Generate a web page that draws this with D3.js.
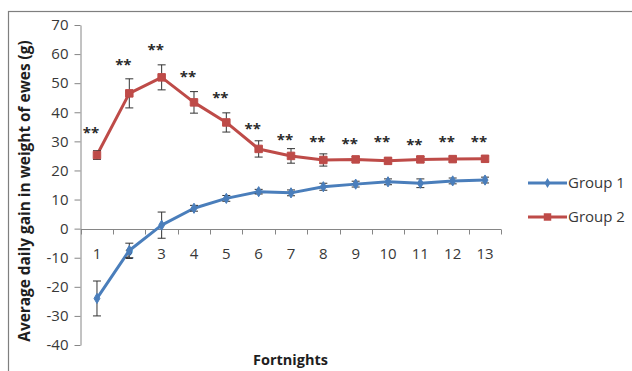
<!DOCTYPE html>
<html>
<head>
<meta charset="utf-8">
<script src="https://cdn.jsdelivr.net/npm/d3@7"></script>
<style>
  html, body { margin: 0; padding: 0; background: #fff; }
  svg { display: block; }
  text { font-family: "Open Sans", "Liberation Sans", sans-serif; }
</style>
</head>
<body>
<svg id="chart" width="632" height="371"></svg>
<script>
// Fortnight index and mean daily gain (g) per group, with error half-widths
const fortnights = [1, 2, 3, 4, 5, 6, 7, 8, 9, 10, 11, 12, 13];
const group1 = [-24, -7.5, 1.2, 7, 10.4, 12.7, 12.3, 14.4, 15.3, 16.1, 15.6, 16.4, 16.7];
const group1Err = [6, 2.5, 4.5, 1, 1, 0.8, 1, 1.2, 1, 1, 1.5, 1, 1];
const group2 = [25.3, 46.5, 52, 43.4, 36.5, 27.4, 25, 23.6, 23.8, 23.3, 23.8, 23.9, 24];
const group2Err = [1.5, 5, 4.3, 3.7, 3.3, 2.8, 2.5, 2.1, 1, 1, 1, 1, 1];
// Significance markers and the level (g) at which each is written
const signif = ["**", "**", "**", "**", "**", "**", "**", "**", "**", "**", "**", "**", "**"];
const signifLevel = [33.6, 56.9, 62.1, 52.8, 45.6, 34.9, 31.1, 30.4, 29.9, 30.4, 29.4, 30.4, 30.4];
const yTicks = [-40, -30, -20, -10, 0, 10, 20, 30, 40, 50, 60, 70];
const seriesNames = ["Group 1", "Group 2"];

const blue = "#4a7ebb", red = "#be4b48", axisGray = "#868686", textGray = "#383838";

const svg = d3.select("#chart");

// outer frame
svg.append("rect")
  .attr("x", 8.5).attr("y", 11.5).attr("width", 700).attr("height", 500)
  .attr("fill", "none").attr("stroke", "#7f7f7f").attr("stroke-width", 1.2);

const x = d3.scaleBand().domain(fortnights).range([80.8, 501.2]);
const y = d3.scaleLinear().domain([-40, 70]).range([345, 25]);
const cx = d => x(d) + x.bandwidth() / 2;

// y axis
const yAxis = svg.append("g")
  .attr("transform", "translate(80.5,0)")
  .call(d3.axisLeft(y).tickValues(yTicks).tickSize(6).tickSizeOuter(0).tickPadding(6)
    .tickFormat(d => String(d)));
yAxis.select(".domain").attr("stroke", axisGray);
yAxis.selectAll(".tick line").attr("stroke", axisGray);
yAxis.selectAll(".tick text").attr("fill", textGray).attr("font-size", 15).attr("font-family", null);

// x axis along zero
const y0 = Math.round(y(0)) + 0.5;
const xAxis = svg.append("g").attr("transform", `translate(0,${y0})`);
xAxis.append("line").attr("x1", x.range()[0]).attr("x2", x.range()[1])
  .attr("stroke", axisGray);
const bounds = fortnights.map(d => x(d)).concat([x.range()[1]]);
xAxis.selectAll("line.tk").data(bounds).join("line").attr("class", "tk")
  .attr("x1", d => Math.round(d) + 0.5).attr("x2", d => Math.round(d) + 0.5)
  .attr("y1", 0).attr("y2", 5).attr("stroke", axisGray);
xAxis.selectAll("text").data(fortnights).join("text")
  .attr("x", d => cx(d)).attr("y", 29)
  .attr("text-anchor", "middle").attr("fill", textGray).attr("font-size", 15)
  .text(d => d);

// axis titles
svg.append("text")
  .attr("transform", "translate(30,191) rotate(-90)")
  .attr("text-anchor", "middle").attr("font-weight", "bold").attr("font-size", 15.4)
  .attr("fill", "#1e1e1e").text("Average daily gain in weight of ewes (g)");
svg.append("text")
  .attr("x", 290.5).attr("y", 365)
  .attr("text-anchor", "middle").attr("font-weight", "bold").attr("font-size", 14.5)
  .attr("fill", "#1e1e1e").text("Fortnights");

function drawSeries(values, errs, color, marker) {
  const g = svg.append("g");
  const pts = fortnights.map((f, i) => ({ f, v: values[i], e: errs[i] }));
  g.append("path").datum(pts)
    .attr("fill", "none").attr("stroke", color).attr("stroke-width", 3)
    .attr("stroke-linejoin", "round")
    .attr("d", d3.line().x(d => cx(d.f)).y(d => y(d.v)));
  // error bars
  const eb = g.selectAll("g.eb").data(pts).join("g").attr("class", "eb")
    .attr("stroke", "#333").attr("stroke-width", 1);
  eb.append("line").attr("x1", d => cx(d.f)).attr("x2", d => cx(d.f))
    .attr("y1", d => y(d.v - d.e)).attr("y2", d => y(d.v + d.e));
  eb.append("line").attr("x1", d => cx(d.f) - 4).attr("x2", d => cx(d.f) + 4)
    .attr("y1", d => y(d.v + d.e)).attr("y2", d => y(d.v + d.e));
  eb.append("line").attr("x1", d => cx(d.f) - 4).attr("x2", d => cx(d.f) + 4)
    .attr("y1", d => y(d.v - d.e)).attr("y2", d => y(d.v - d.e));
  g.selectAll("path.mk").data(pts).join("path").attr("class", "mk")
    .attr("transform", d => `translate(${cx(d.f)},${y(d.v)})`)
    .attr("d", marker).attr("fill", color).attr("stroke", color).attr("stroke-width", 1);
}

const diamond = d3.symbol(d3.symbolDiamond, 30)();
const square = d3.symbol(d3.symbolSquare, 56)();

drawSeries(group1, group1Err, blue, diamond);
drawSeries(group2, group2Err, red, square);

// significance stars
svg.append("g").selectAll("text").data(fortnights).join("text")
  .attr("x", (d, i) => cx(d) - 6)
  .attr("y", (d, i) => y(signifLevel[i]) + 7)
  .attr("text-anchor", "middle").attr("font-size", 15).attr("font-weight", "bold")
  .attr("fill", "#2a2a2a")
  .text((d, i) => signif[i]);

// legend
const legend = svg.append("g");
const legendY = [183, 217];
const legendColor = [blue, red];
const legendMarker = [diamond, square];
seriesNames.forEach((name, i) => {
  const row = legend.append("g").attr("transform", `translate(528,${legendY[i]})`);
  row.append("line").attr("x1", 0).attr("x2", 39).attr("stroke", legendColor[i]).attr("stroke-width", 3);
  row.append("path").attr("transform", "translate(19.5,0)").attr("d", legendMarker[i])
    .attr("fill", legendColor[i]);
  row.append("text").attr("x", 40).attr("y", 0).attr("dy", "0.35em")
    .attr("font-size", 15).attr("fill", textGray).text(name);
});
</script>
</body>
</html>
